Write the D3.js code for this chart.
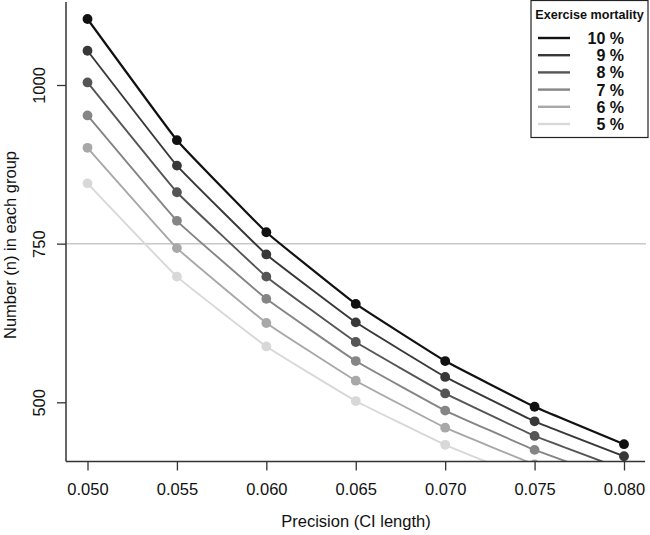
<!DOCTYPE html>
<html>
<head>
<meta charset="utf-8">
<script src="https://cdn.jsdelivr.net/npm/d3@7"></script>
<style>
  html, body { margin: 0; padding: 0; background: #fff; }
  svg { display: block; font-family: "Liberation Sans", Arial, sans-serif; }
</style>
</head>
<body>
<svg id="chart" width="650" height="535"></svg>
<script>
// ---- Data ----
const precision = [0.050, 0.055, 0.060, 0.065, 0.070, 0.075, 0.080];
const seriesLabels = ["10 %", "9 %", "8 %", "7 %", "6 %", "5 %"];
const mort10 = [1104, 913, 768, 655, 565, 493, 434];
const mort9  = [1054, 873, 733, 626, 540, 470, 415];
const mort8  = [1004, 831, 698, 595, 514, 447, 394];
const mort7  = [952, 786, 663, 565, 487, 425, 374];
const mort6  = [901, 743, 625, 534, 460, 402, 352];
const mort5  = [845, 698, 588, 502, 433, 376, 330];
const yTicks = [500, 750, 1000];
const refLine = 750;
const colors = ["#111111", "#383838", "#555555", "#858585", "#a8a8a8", "#d8d8d8"];

const seriesValues = [mort10, mort9, mort8, mort7, mort6, mort5];

// ---- Layout ----
const svg = d3.select("#chart");
const axisLeftX = 66, axisBottomY = 461.5, plotTop = 2, plotRight = 648;

const x = d3.scaleLinear().domain([0.05, 0.08]).range([87.5, 624]);
const y = d3.scaleLinear().domain([500, 1000]).range([402.3, 85]);

svg.append("defs").append("clipPath").attr("id", "plotclip")
  .append("rect").attr("x", axisLeftX).attr("y", 0)
  .attr("width", plotRight - axisLeftX).attr("height", axisBottomY - 0.5);

// reference line
svg.append("line")
  .attr("x1", axisLeftX).attr("x2", plotRight - 2)
  .attr("y1", y(refLine)).attr("y2", y(refLine))
  .attr("stroke", "#c8c8c8").attr("stroke-width", 1.5);

// series (draw lightest first so darkest on top)
const plot = svg.append("g").attr("clip-path", "url(#plotclip)");
const line = d3.line()
  .x((d, i) => x(precision[i]))
  .y(d => y(d))
  .curve(d3.curveCardinal.tension(0.75));

const order = d3.range(seriesValues.length).reverse();
order.forEach(k => {
  const vals = seriesValues[k];
  plot.append("path")
    .attr("d", line(vals))
    .attr("fill", "none")
    .attr("stroke", colors[k])
    .attr("stroke-width", k === 0 ? 2.2 : 1.9);
  plot.selectAll(null).data(vals).enter().append("circle")
    .attr("cx", (d, i) => x(precision[i]))
    .attr("cy", d => y(d))
    .attr("r", 4.9)
    .attr("fill", colors[k]);
});

// axes
const xAxis = d3.axisBottom(x).tickValues(precision).tickFormat(d3.format(".3f")).tickSize(9).tickSizeOuter(0);
const gx = svg.append("g").attr("transform", `translate(0,${axisBottomY})`).call(xAxis);
gx.select(".domain").remove();
gx.selectAll(".tick line").attr("stroke", "#333").attr("stroke-width", 1.3);
gx.selectAll(".tick text").attr("font-size", 16.5).attr("fill", "#111")
  .attr("font-family", "Liberation Sans, Arial, sans-serif").attr("dy", "1.3em");
svg.append("line").attr("x1", axisLeftX).attr("x2", 645)
  .attr("y1", axisBottomY).attr("y2", axisBottomY)
  .attr("stroke", "#333").attr("stroke-width", 1.5);

const yAxis = d3.axisLeft(y).tickValues(yTicks).tickFormat(d3.format("d")).tickSize(9).tickSizeOuter(0);
const gy = svg.append("g").attr("transform", `translate(${axisLeftX},0)`).call(yAxis);
gy.select(".domain").remove();
gy.selectAll(".tick line").attr("stroke", "#333").attr("stroke-width", 1.3);
gy.selectAll(".tick text").attr("font-size", 16.5).attr("fill", "#111")
  .attr("font-family", "Liberation Sans, Arial, sans-serif")
  .attr("x", 0).attr("dy", 0)
  .attr("text-anchor", "middle")
  .attr("transform", "translate(-21,0) rotate(-90)");
svg.append("line").attr("x1", axisLeftX).attr("x2", axisLeftX)
  .attr("y1", plotTop).attr("y2", axisBottomY)
  .attr("stroke", "#333").attr("stroke-width", 1.5);

// axis titles
svg.append("text").attr("x", 356).attr("y", 527)
  .attr("text-anchor", "middle").attr("font-size", 16.5).attr("fill", "#111")
  .text("Precision (CI length)");
svg.append("text")
  .attr("transform", "translate(16,245) rotate(-90)")
  .attr("text-anchor", "middle").attr("font-size", 16.5).attr("fill", "#111")
  .text("Number (n) in each group");

// legend
const lg = svg.append("g");
lg.append("rect").attr("x", 531).attr("y", 0.5).attr("width", 117).attr("height", 137)
  .attr("fill", "#fff").attr("stroke", "#222").attr("stroke-width", 1.2);
lg.append("text").attr("x", 589.5).attr("y", 19).attr("text-anchor", "middle")
  .attr("font-size", 12.6).attr("font-weight", "bold").attr("fill", "#111")
  .text("Exercise mortality");
seriesLabels.forEach((lab, k) => {
  const yy = 38 + k * 17.2;
  lg.append("line").attr("x1", 538).attr("x2", 570).attr("y1", yy).attr("y2", yy)
    .attr("stroke", colors[k]).attr("stroke-width", 2.4);
  lg.append("text").attr("x", 624).attr("y", yy + 6).attr("text-anchor", "end")
    .attr("font-size", 16).attr("font-weight", "bold").attr("fill", "#111")
    .text(lab);
});
</script>
</body>
</html>
